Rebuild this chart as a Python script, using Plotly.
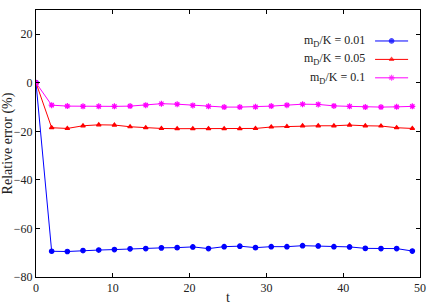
import plotly.graph_objects as go

t = [0, 2.04, 4.08, 6.12, 8.17, 10.21, 12.25, 14.29, 16.33, 18.38, 20.42, 22.46,
     24.5, 26.54, 28.58, 30.63, 32.67, 34.71, 36.75, 38.79, 40.83, 42.88, 44.92, 46.96, 49.0]

err_001 = [0, -69.4, -69.5, -69.1, -68.9, -68.7, -68.4, -68.3, -68.0, -67.9, -67.6, -68.3,
           -67.5, -67.3, -67.9, -67.5, -67.5, -67.1, -67.2, -67.5, -67.6, -68.2, -68.3, -68.3, -69.3]
err_005 = [0, -18.5, -18.8, -17.7, -17.3, -17.4, -18.1, -18.5, -18.8, -18.9, -18.9, -18.9,
           -18.9, -18.9, -18.8, -18.2, -18.0, -17.7, -17.7, -17.7, -17.4, -17.7, -17.8, -18.5, -18.8]
err_01 = [0, -9.2, -9.6, -9.7, -9.7, -9.7, -9.6, -9.2, -8.6, -8.8, -9.3, -9.7,
          -10.0, -10.0, -9.9, -9.6, -9.2, -8.8, -8.9, -9.5, -9.7, -10.0, -10.0, -9.9, -9.7]

labels = ["m<sub>D</sub>/K = 0.01", "m<sub>D</sub>/K = 0.05", "m<sub>D</sub>/K = 0.1"]
series = [err_001, err_005, err_01]
colors = ["#0000ff", "#ff0000", "#ff00ff"]
symbols = ["circle", "triangle-up", "asterisk-open"]
sizes = [4.5, 4, 5]

x_ticks = [0, 10, 20, 30, 40, 50]
y_ticks = [-80, -60, -40, -20, 0, 20]

FONT = "Liberation Serif"

fig = go.Figure()
for lab, ys, c, s, sz in zip(labels, series, colors, symbols, sizes):
    fig.add_trace(go.Scatter(
        x=t, y=ys, mode="lines+markers", name=lab,
        line=dict(color=c, width=1),
        marker=dict(color=c, symbol=s, size=sz, line=dict(color=c, width=1.2)),
        showlegend=False,
    ))

# custom gnuplot-style key (text right-aligned, sample on the right)
key_y = [0.884, 0.815, 0.746]
for lab, c, s, sz, ky in zip(labels, colors, symbols, sizes, key_y):
    fig.add_trace(go.Scatter(
        x=[0.883, 0.926, 0.969], y=[ky, ky, ky], mode="lines+markers",
        xaxis="x2", yaxis="y2", showlegend=False, hoverinfo="skip",
        line=dict(color=c, width=1),
        marker=dict(color=c, symbol=s, size=[0, sz, 0], line=dict(color=c, width=1.2)),
    ))
    fig.add_annotation(
        x=0.862, y=ky, xref="x2", yref="y2", text=lab, showarrow=False,
        xanchor="right", yanchor="middle", font=dict(family=FONT, size=12, color="#222"),
    )

axis_common = dict(
    showline=True, linecolor="black", linewidth=1, mirror="ticks",
    ticks="inside", ticklen=4, tickcolor="black", tickwidth=1,
    showgrid=False, zeroline=False, automargin=False,
    tickfont=dict(family=FONT, size=12, color="#222"),
)

fig.update_layout(
    width=436, height=305,
    margin=dict(l=36, r=16, t=10, b=28, autoexpand=False),
    font=dict(family=FONT, color="#222"),
    paper_bgcolor="white", plot_bgcolor="white",
    xaxis=dict(range=[0, 50], tickvals=x_ticks,
               title=dict(text="t", font=dict(family=FONT, size=14, color="#222"), standoff=0),
               **axis_common),
    yaxis=dict(range=[-80, 30], tickvals=y_ticks,
               title=dict(text="Relative error (%)", font=dict(family=FONT, size=14, color="#222"), standoff=4),
               **axis_common),
    xaxis2=dict(overlaying="x", range=[0, 1], visible=False, fixedrange=True),
    yaxis2=dict(overlaying="y", range=[0, 1], visible=False, fixedrange=True),
    showlegend=False,
)

fig.write_html(
    "out.html",
    config={"displayModeBar": False},
    post_script="document.body.style.margin='0';document.body.style.padding='0';",
)
